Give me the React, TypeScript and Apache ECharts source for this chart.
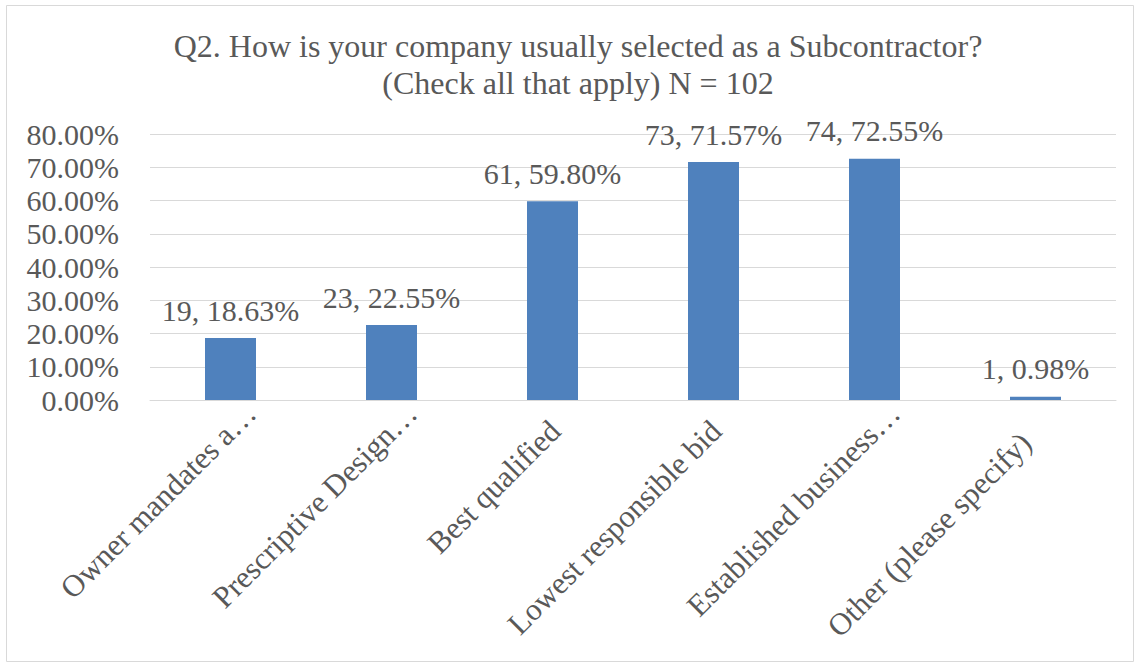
import React, { useEffect, useRef } from "react";
import * as echarts from "echarts";

const categories = [
  "Owner mandates a…",
  "Prescriptive Design…",
  "Best qualified",
  "Lowest responsible bid",
  "Established business…",
  "Other (please specify)",
];
const counts = [19, 23, 61, 73, 74, 1];
const percents = [18.63, 22.55, 59.8, 71.57, 72.55, 0.98];
const titleText = "Q2. How is your company usually selected as a Subcontractor?\n(Check all that apply) N = 102";

const FONT = "'Liberation Serif', 'Times New Roman', serif";
const GREY = "#595959";

export default function App() {
  const ref = useRef<HTMLDivElement>(null);
  useEffect(() => {
    const chart = echarts.init(ref.current!, null, { renderer: "svg" });
    chart.setOption({
      animation: false,
      backgroundColor: "#ffffff",
      title: {
        text: titleText,
        left: 573,
        textAlign: "center",
        top: 22,
        textStyle: { fontFamily: FONT, fontSize: 32, fontWeight: "normal", color: GREY, lineHeight: 37 },
      },
      graphic: [
        {
          type: "rect",
          shape: { x: 6.5, y: 5.5, width: 1127, height: 656 },
          style: { fill: "none", stroke: "#d9d9d9", lineWidth: 1 },
          silent: true,
        },
      ],
      grid: { left: 150, right: 24, top: 134, bottom: 268 },
      xAxis: {
        type: "category",
        data: categories,
        axisLine: { show: true, lineStyle: { color: "#d9d9d9", width: 1 } },
        axisTick: { show: false },
        axisLabel: {
          rotate: 45,
          interval: 0,
          margin: -12,
          verticalAlign: "top",
          fontFamily: FONT,
          fontSize: 31,
          color: GREY,
          formatter: (v: string, i: number) =>
            v.endsWith("…") ? "{t|" + v + "}" : i === categories.length - 1 ? "{o|" + v + "}" : "{n|" + v + "}",
          rich: {
            t: { fontFamily: FONT, fontSize: 31, color: GREY, padding: [13, 0, 0, 0] },
            n: { fontFamily: FONT, fontSize: 31, color: GREY, padding: [13, 25, 0, 0] },
            o: { fontFamily: FONT, fontSize: 31, color: GREY, padding: [13, 42, 0, 0] },
          },
        },
      },
      yAxis: {
        type: "value",
        min: 0,
        max: 80,
        interval: 10,
        axisLine: { show: false },
        axisTick: { show: false },
        splitLine: { lineStyle: { color: "#d9d9d9", width: 1 } },
        axisLabel: {
          margin: 31,
          fontFamily: FONT,
          fontSize: 30,
          color: GREY,
          formatter: (v: number) => v.toFixed(2) + "%",
        },
      },
      series: [
        {
          type: "bar",
          data: percents,
          barWidth: 51,
          itemStyle: { color: "#4f81bd" },
          label: {
            show: true,
            position: "top",
            distance: 13,
            fontFamily: FONT,
            fontSize: 30,
            color: GREY,
            formatter: (p: any) => counts[p.dataIndex] + ", " + percents[p.dataIndex].toFixed(2) + "%",
          },
        },
      ],
    });
    return () => chart.dispose();
  }, []);
  return (
    <div
      ref={ref}
      style={{ position: "absolute", left: 0, top: 0, width: 1140, height: 668 }}
    />
  );
}
